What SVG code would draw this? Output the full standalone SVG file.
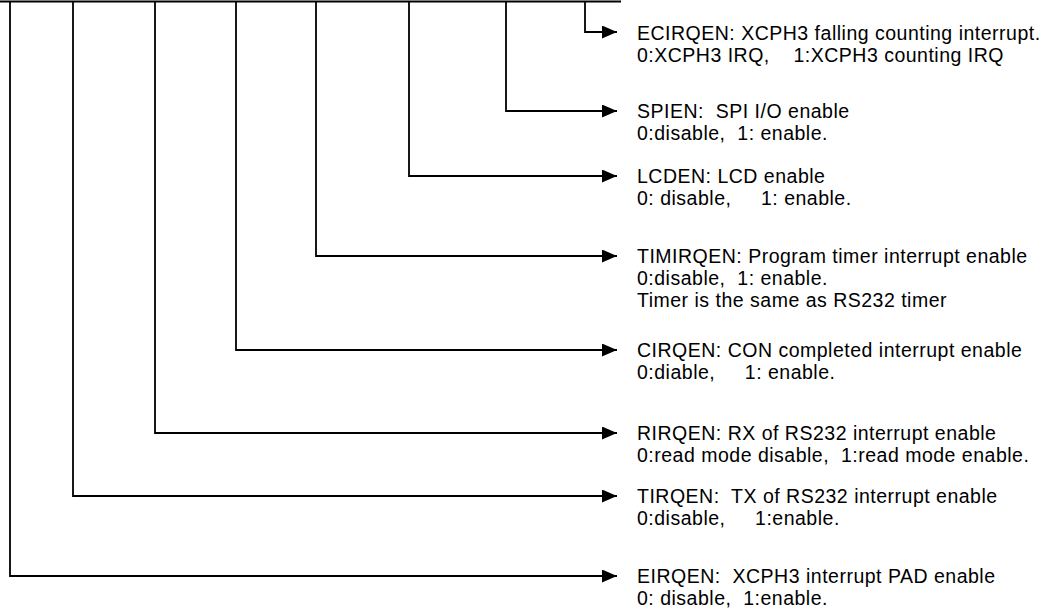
<svg xmlns="http://www.w3.org/2000/svg" width="1061" height="614" viewBox="0 0 1061 614">
<defs>
<marker id="ah" markerUnits="userSpaceOnUse" markerWidth="16" markerHeight="14" refX="15" refY="6.5" orient="auto"><path d="M0,0 L15,6.5 L0,13 Z" fill="#000"/></marker>
<style>
.c{fill:none;stroke:#000;stroke-width:1.8}
text{font-family:"Liberation Sans",Arial,sans-serif;font-size:19.5px;letter-spacing:0.5px;fill:#000}
</style>
</defs>
<rect width="1061" height="614" fill="#fff"/>
<g id="connectors">
<line class="c" x1="0" y1="1.5" x2="621" y2="1.5" style="stroke-width:2.2"/>
<path class="c" d="M585,1 V32 H617" marker-end="url(#ah)"/>
<path class="c" d="M506,1 V111 H617" marker-end="url(#ah)"/>
<path class="c" d="M409,1 V176 H617" marker-end="url(#ah)"/>
<path class="c" d="M316,1 V256 H617" marker-end="url(#ah)"/>
<path class="c" d="M236,1 V350 H617" marker-end="url(#ah)"/>
<path class="c" d="M155,1 V433 H617" marker-end="url(#ah)"/>
<path class="c" d="M73,1 V496 H617" marker-end="url(#ah)"/>
<path class="c" d="M10,1 V576 H617" marker-end="url(#ah)"/>
</g>
<g id="ecirqen"><text x="637" y="40" xml:space="preserve">ECIRQEN: XCPH3 falling counting interrupt.<tspan x="637" dy="21.8">0:XCPH3 IRQ,    1:XCPH3 counting IRQ</tspan></text></g>
<g id="spien"><text x="637" y="118" xml:space="preserve">SPIEN:  SPI I/O enable<tspan x="637" dy="21.8">0:disable,  1: enable.</tspan></text></g>
<g id="lcden"><text x="637" y="183" xml:space="preserve">LCDEN: LCD enable<tspan x="637" dy="21.8">0: disable,     1: enable.</tspan></text></g>
<g id="timirqen"><text x="637" y="263" xml:space="preserve">TIMIRQEN: Program timer interrupt enable<tspan x="637" dy="21.8">0:disable,  1: enable.</tspan><tspan x="637" dy="21.8">Timer is the same as RS232 timer</tspan></text></g>
<g id="cirqen"><text x="637" y="357" xml:space="preserve">CIRQEN: CON completed interrupt enable<tspan x="637" dy="21.8">0:diable,     1: enable.</tspan></text></g>
<g id="rirqen"><text x="637" y="440" xml:space="preserve">RIRQEN: RX of RS232 interrupt enable<tspan x="637" dy="21.8">0:read mode disable,  1:read mode enable.</tspan></text></g>
<g id="tirqen"><text x="637" y="503" xml:space="preserve">TIRQEN:  TX of RS232 interrupt enable<tspan x="637" dy="21.8">0:disable,     1:enable.</tspan></text></g>
<g id="eirqen"><text x="637" y="583" xml:space="preserve">EIRQEN:  XCPH3 interrupt PAD enable<tspan x="637" dy="21.8">0: disable,  1:enable.</tspan></text></g>
</svg>
